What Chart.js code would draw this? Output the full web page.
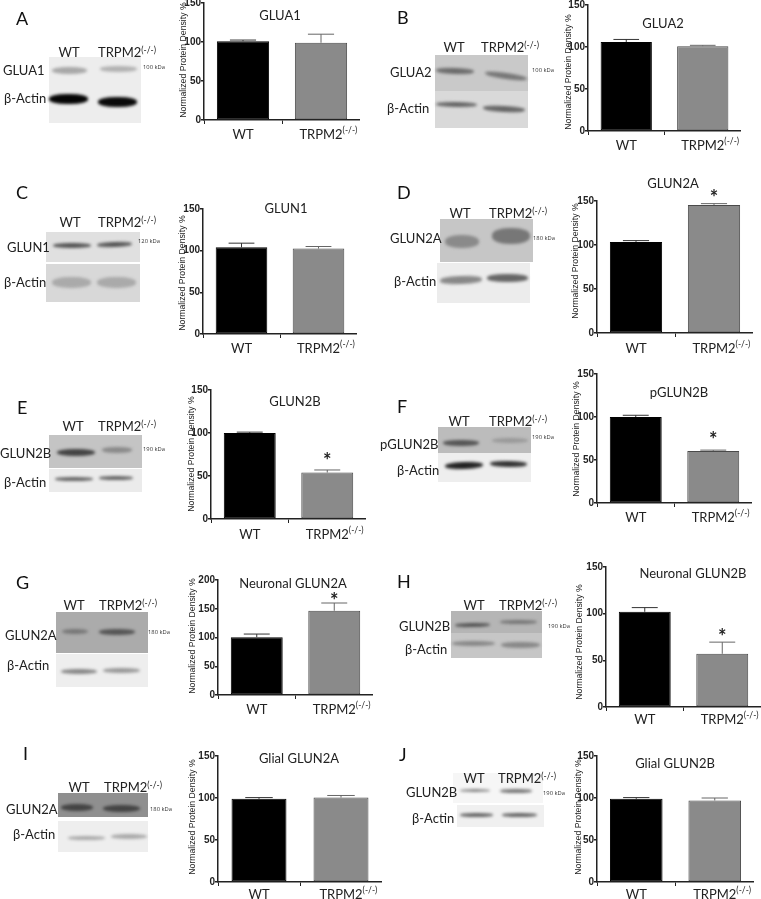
<!DOCTYPE html>
<html>
<head>
<meta charset="utf-8">
<title>TRPM2 western blots</title>
<script src="https://cdn.jsdelivr.net/npm/chart.js@4"></script>
<style>
    html, body { margin: 0; padding: 0; background: #fff; }
    #page { position: relative; width: 761px; height: 899px; overflow: hidden; filter: blur(0.45px); }
    #page canvas { position: absolute; }
    .txt { position: absolute; font-family: Lato, sans-serif; font-size: 13px; line-height: 1; color: #222; white-space: nowrap; }
    .txt span { font-size: 8.5px; position: relative; top: -4px; }
    .center { transform: translate(-50%, -50%); }
    .left { transform: translateY(-50%); }
    .letter { font-size: 18px; color: #111; }
    .kda { font-size: 5.8px; color: #333; font-family: "Open Sans", sans-serif; }
    .rect, .band { position: absolute; }
    .band { border-radius: 45%; filter: blur(1.4px); }
</style>
</head>
<body>
<div id="page"></div>
<script>
// values
const categories = ["WT", "TRPM2"];
const superscript = "(-/-)";
const yTitle = "Normalized Protein Density %";
const panelLetters = ["A", "B", "C", "D", "E", "F", "G", "H", "I", "J"];
const panelTitles = ["GLUA1", "GLUA2", "GLUN1", "GLUN2A", "GLUN2B", "pGLUN2B", "Neuronal GLUN2A", "Neuronal GLUN2B", "Glial GLUN2A", "Glial GLUN2B"];
const wtMeans = [101, 106, 104, 103.5, 100, 100, 100.5, 102, 99, 99];
const koMeans = [99, 101, 102.5, 145.5, 54, 60.5, 146.5, 57, 100.5, 97];
const wtErrTops = [102.5, 109, 109, 105, 101, 102, 106, 106.5, 100.5, 100.5];
const koErrTops = [110, 102, 105, 147, 57, 61.5, 160, 69.5, 103, 100];
const yMaxima = [150, 150, 150, 150, 150, 150, 200, 150, 150, 150];
const significant = [false, false, false, true, true, true, true, true, false, false];
const blotTarget = ["GLUA1", "GLUA2", "GLUN1", "GLUN2A", "GLUN2B", "pGLUN2B", "GLUN2A", "GLUN2B", "GLUN2A", "GLUN2B"];
const blotSize = ["100 kDa", "100 kDa", "120 kDa", "180 kDa", "190 kDa", "190 kDa", "180 kDa", "190 kDa", "180 kDa", "190 kDa"];

// layout of each bar chart: axis x, right end, y of top tick, y of zero,
// title centre, gap under axis, y title centre and distance from axis, star gap
const chartLayout = [
    { x: 203.5, end: 359, top: 3, zero: 120, tx: 280, ty: 15, gap: 1, yc: 60, yd: 20, star: 0 },
    { x: 588, end: 741, top: 5, zero: 131, tx: 663, ty: 23, gap: 1, yc: 72, yd: 19, star: 0 },
    { x: 203, end: 357, top: 209, zero: 334, tx: 286, ty: 208, gap: 1, yc: 273, yd: 20, star: 0 },
    { x: 597, end: 753, top: 201, zero: 333, tx: 673, ty: 183, gap: 2, yc: 261, yd: 21, star: 10 },
    { x: 211, end: 366, top: 390, zero: 519, tx: 295, ty: 401, gap: 2, yc: 454, yd: 19, star: 13 },
    { x: 597, end: 752, top: 374, zero: 503, tx: 679, ty: 392, gap: 1, yc: 439, yd: 20, star: 15 },
    { x: 218, end: 373, top: 580, zero: 695, tx: 293, ty: 583, gap: 1, yc: 636, yd: 25, star: 6 },
    { x: 606, end: 761, top: 567, zero: 707, tx: 693, ty: 573, gap: -1, yc: 642, yd: 26, star: 10 },
    { x: 218, end: 382, top: 756, zero: 882, tx: 299, ty: 758, gap: -1, yc: 817, yd: 25, star: 0 },
    { x: 597, end: 754, top: 756, zero: 882, tx: 675, ty: 763, gap: -1, yc: 817, yd: 18, star: 0 },
];

// text around each blot: letter x/y, WT x, TRPM2 x, column header y, target x/y, actin x/y, kDa x/y
const blotText = [
    { lx: 16, ly: 18, wx: 69, kx: 127, hy: 52, gx: 3, gy: 70, ax: 4, ay: 98, dx: 143, dy: 68 },
    { lx: 397, ly: 17, wx: 454, kx: 510, hy: 47, gx: 390, gy: 72, ax: 387, ay: 108, dx: 532, dy: 71 },
    { lx: 16, ly: 192, wx: 70, kx: 127, hy: 222, gx: 7, gy: 247, ax: 4, ay: 282, dx: 138, dy: 242 },
    { lx: 397, ly: 192, wx: 460, kx: 518, hy: 213, gx: 390, gy: 238, ax: 394, ay: 281, dx: 533, dy: 239 },
    { lx: 17, ly: 407, wx: 73, kx: 127, hy: 426, gx: 0, gy: 453, ax: 4, ay: 482, dx: 143, dy: 450 },
    { lx: 397, ly: 406, wx: 459, kx: 518, hy: 421, gx: 380, gy: 444, ax: 397, ay: 470, dx: 532, dy: 438 },
    { lx: 16, ly: 582, wx: 74, kx: 128, hy: 605, gx: 5, gy: 635, ax: 7, ay: 665, dx: 148, dy: 633 },
    { lx: 397, ly: 581, wx: 474, kx: 528, hy: 605, gx: 399, gy: 626, ax: 405, ay: 649, dx: 548, dy: 627 },
    { lx: 23, ly: 753, wx: 79, kx: 133, hy: 787, gx: 6, gy: 809, ax: 13, ay: 834, dx: 150, dy: 810 },
    { lx: 399, ly: 754, wx: 474, kx: 527, hy: 778, gx: 406, gy: 792, ax: 412, ay: 818, dx: 543, dy: 794 },
];

// membrane backgrounds and bands of the blot photos: [x, y, w, h, colour, rotation]
const blotRects = [
    [[49, 57, 92, 66, "#ededed"]],
    [[435, 55, 93, 36, "#c9c9c9"], [435, 91, 93, 37, "#d9d9d9"]],
    [[46, 232, 94, 30, "#e0e0e0"], [46, 264, 94, 38, "#d8d8d8"]],
    [[440, 219, 93, 43, "#c6c6c6"], [437, 263, 93, 40, "#ececec"]],
    [[49, 435, 93, 33, "#c4c4c4"], [49, 469, 93, 23, "#ebebeb"]],
    [[438, 427, 93, 26, "#bcbcbc"], [438, 453, 93, 29, "#eeeeee"]],
    [[56, 612, 92, 41, "#ababab"], [56, 654, 92, 33, "#eeeeee"]],
    [[451, 611, 91, 22, "#b5b5b5"], [451, 633, 91, 25, "#c6c6c6"]],
    [[58, 793, 90, 24, "#8f8f8f"], [58, 821, 90, 31, "#eeeeee"]],
    [[453, 773, 90, 30, "#f6f6f6"], [457, 805, 87, 22, "#f0f0f0"]],
];
const blotBands = [
    [[52, 67, 35, 7, "#a8a8a8"], [100, 66, 37, 6, "#b2b2b2"], [49, 94, 39, 10, "#050505"], [98, 97, 39, 10, "#0a0a0a"]],
    [[436, 68, 38, 6, "#6c6c6c", 2], [485, 73, 42, 6, "#777777", 8], [436, 102, 41, 5, "#666666", 1], [483, 106, 42, 6, "#666666", 3]],
    [[53, 243, 38, 5, "#555555"], [97, 242, 35, 5, "#555555", -2], [52, 277, 39, 11, "#aaaaaa"], [97, 277, 39, 11, "#aaaaaa"]],
    [[445, 235, 34, 13, "#8a8a8a"], [492, 228, 38, 16, "#777777"], [440, 276, 42, 8, "#888888", -2], [487, 274, 41, 8, "#666666"]],
    [[57, 449, 38, 7, "#444444"], [102, 447, 30, 6, "#8a8a8a"], [55, 477, 38, 4, "#666666"], [99, 476, 34, 4, "#666666"]],
    [[443, 440, 36, 6, "#555555"], [492, 438, 36, 5, "#999999"], [445, 462, 38, 7, "#222222", -2], [490, 461, 37, 6, "#333333", 1]],
    [[62, 629, 26, 5, "#777777"], [99, 629, 36, 6, "#555555"], [61, 669, 36, 5, "#888888"], [103, 668, 37, 5, "#999999"]],
    [[455, 623, 35, 4, "#555555", -1], [500, 620, 37, 4, "#777777"], [452, 641, 43, 5, "#888888"], [501, 642, 39, 6, "#888888"]],
    [[61, 804, 32, 7, "#444444"], [103, 805, 37, 7, "#444444"], [68, 836, 37, 4, "#aaaaaa"], [111, 834, 36, 5, "#aaaaaa"]],
    [[460, 789, 30, 3, "#888888"], [500, 789, 32, 4, "#777777"], [460, 813, 33, 4, "#666666"], [502, 813, 35, 4, "#666666"]],
];

const page = document.getElementById("page");

document.addEventListener("DOMContentLoaded", function () {
    panelTitles.forEach((title, i) => {
        drawBlot(i);
        addChartTitle(i);
        drawBarChart(i);
    });
});

function addText(html, x, y, className) {
    const el = document.createElement("div");
    el.className = "txt " + className;
    el.innerHTML = html;
    el.style.left = x + "px";
    el.style.top = y + "px";
    page.appendChild(el);
}

function addBox(item, className) {
    const el = document.createElement("div");
    el.className = className;
    el.style.left = item[0] + "px";
    el.style.top = item[1] + "px";
    el.style.width = item[2] + "px";
    el.style.height = item[3] + "px";
    el.style.background = item[4];
    if (item[5]) el.style.transform = "rotate(" + item[5] + "deg)";
    page.appendChild(el);
}

/* Draws the blot photo of a panel with its labels. */
function drawBlot(i) {
    const t = blotText[i];
    blotRects[i].forEach((r) => addBox(r, "rect"));
    blotBands[i].forEach((b) => addBox(b, "band"));
    addText(panelLetters[i], t.lx, t.ly, "letter left");
    addText(categories[0], t.wx, t.hy, "center");
    addText(categories[1] + "<span>" + superscript + "</span>", t.kx, t.hy, "center");
    addText(blotTarget[i], t.gx, t.gy, "left");
    addText("β-Actin", t.ax, t.ay, "left");
    addText(blotSize[i], t.dx, t.dy, "kda left");
}

function addChartTitle(i) {
    const l = chartLayout[i];
    addText(panelTitles[i], l.tx, l.ty, "center");
}

/* Error bars, the superscript on the x label, the stars and the y title. */
const panelExtras = {
    id: "panelExtras",
    afterDatasetsDraw(chart, args, opts) {
        const ctx = chart.ctx;
        const x = chart.scales.x;
        const y = chart.scales.y;
        const bars = chart.getDatasetMeta(0).data;
        ctx.save();
        opts.errTops.forEach((top, n) => {
            const cx = bars[n].x;
            const half = bars[n].width / 4;
            const py = y.getPixelForValue(top);
            ctx.strokeStyle = n === 0 ? "#333" : "#666";
            ctx.lineWidth = 1;
            ctx.beginPath();
            ctx.moveTo(cx, bars[n].y);
            ctx.lineTo(cx, py);
            ctx.moveTo(cx - half, py);
            ctx.lineTo(cx + half, py);
            ctx.stroke();
        });

        ctx.fillStyle = "#222";
        ctx.textBaseline = "middle";

        // superscript after the native TRPM2 tick label
        ctx.font = "13px Lato, sans-serif";
        const labelEnd = x.getPixelForValue(1) + ctx.measureText(categories[1]).width / 2;
        const labelY = x.top + 4 + x.options.ticks.padding + 3;
        ctx.font = "8.5px Lato, sans-serif";
        ctx.textAlign = "left";
        ctx.fillText(superscript, labelEnd, labelY);

        if (opts.star) {
            ctx.font = "bold 20px Lato, sans-serif";
            ctx.textAlign = "center";
            ctx.fillText("*", bars[1].x, y.getPixelForValue(opts.errTops[1]) - opts.star + 5);
        }

        ctx.font = "8.7px 'Liberation Sans', sans-serif";
        ctx.textAlign = "center";
        ctx.translate(y.right - opts.titleGap, opts.titleY);
        ctx.rotate(-Math.PI / 2);
        ctx.fillText(yTitle, 0, 0);
        ctx.restore();
    },
};

/* Builds the bar chart of a panel from the value arrays. */
function drawBarChart(i) {
    const l = chartLayout[i];
    const axisWidth = 40;
    const topPad = 16;
    const canvas = document.createElement("canvas");
    const left = l.x - axisWidth;
    const top = l.top - topPad;
    canvas.width = Math.round(l.end - left);
    canvas.height = Math.round(l.zero - top + 24);
    canvas.style.left = left + "px";
    canvas.style.top = top + "px";
    page.appendChild(canvas);

    new Chart(canvas, {
        type: "bar",
        data: {
            labels: categories,
            datasets: [
                {
                    data: [wtMeans[i], koMeans[i]],
                    backgroundColor: ["#000000", "#8a8a8a"],
                    borderColor: ["#000000", "#4a4a4a"],
                    borderWidth: 1,
                    borderSkipped: false,
                    barPercentage: 0.67,
                    categoryPercentage: 1,
                },
            ],
        },
        options: {
            responsive: false,
            animation: false,
            layout: { padding: { top: topPad, left: 0, right: 0, bottom: 0 } },
            plugins: {
                legend: { display: false },
                tooltip: { enabled: false },
                panelExtras: {
                    errTops: [wtErrTops[i], koErrTops[i]],
                    star: significant[i] ? l.star : 0,
                    titleY: l.yc - top,
                    titleGap: l.yd,
                },
            },
            scales: {
                x: {
                    afterFit: (scale) => { scale.height = 24; },
                    border: { color: "#222", width: 1.5 },
                    grid: { drawOnChartArea: false, color: "#222", lineWidth: 1, tickLength: 4 },
                    ticks: {
                        color: "#222",
                        font: { family: "Lato, sans-serif", size: 13 },
                        padding: 2 + l.gap,
                        maxRotation: 0,
                        autoSkip: false,
                    },
                },
                y: {
                    min: 0,
                    max: yMaxima[i],
                    afterFit: (scale) => { scale.width = axisWidth; },
                    border: { color: "#222", width: 1.5 },
                    grid: { drawOnChartArea: false, color: "#222", lineWidth: 1.5, tickLength: 3 },
                    ticks: {
                        stepSize: 50,
                        color: "#222",
                        font: { family: "'Liberation Sans Narrow', 'Liberation Sans', sans-serif", size: 10, weight: "bold" },
                        padding: 0,
                    },
                },
            },
        },
        plugins: [panelExtras],
    });
}
</script>
</body>
</html>
